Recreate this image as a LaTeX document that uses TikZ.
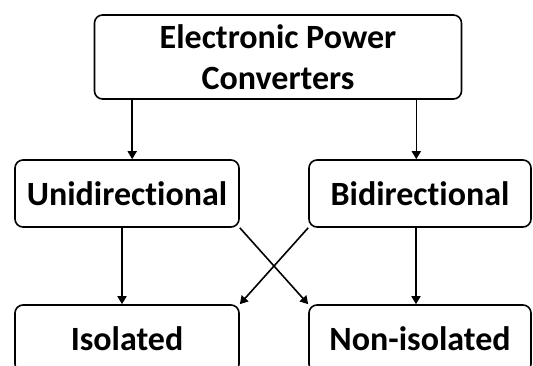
\documentclass[tikz,border=0pt]{standalone}
\usepackage{fontspec}
\setmainfont{Carlito}[Ligatures={NoCommon}]
\usetikzlibrary{arrows.meta}

\begin{document}
\begin{tikzpicture}[x=1pt, y=-1pt, line width=1.6pt,
	arrows={-Triangle[width=9pt,length=8pt]},
	box/.style={draw, -, rounded corners=8pt, inner sep=0pt, align=center,
		font=\fontsize{34}{41}\selectfont\bfseries}]
	\useasboundingbox (0,0) rectangle (533,365);
	\node [box, minimum width=367pt, minimum height=84pt] (EPC) at (278,57) {Electronic Power\\Converters};
	\node [box, minimum width=224pt, minimum height=67pt] (U) at (127,193.5) {Unidirectional};
	\node [box, minimum width=222pt, minimum height=67pt] (B) at (420,193.5) {Bidirectional};
	\node [box, minimum width=224pt, minimum height=67pt] (I) at (127,338.5) {Isolated};
	\node [box, minimum width=222pt, minimum height=67pt] (N) at (420,338.5) {Non-isolated};

	\draw ([xshift=38.5pt]EPC.south west) coordinate (a) -- (a |- U.north);
	\draw ([xshift=-46pt]EPC.south east) coordinate (b) -- (b |- B.north);
	\draw ([xshift=-5pt]U.south) coordinate (c) -- (c |- I.north);
	\draw ([xshift=-4pt]B.south) coordinate (d) -- (d |- N.north);
	\draw (U.south east) -- (N.north west);
	\draw (B.south west) -- (I.north east);
\end{tikzpicture}
\end{document}
